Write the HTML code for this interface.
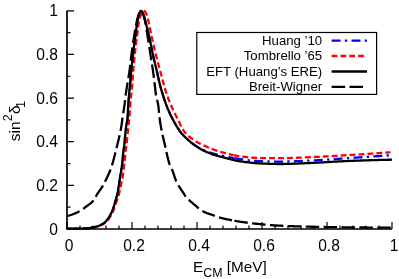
<!DOCTYPE html>
<html><head><meta charset="utf-8"><title>sin2 delta1</title>
<style>
html,body{margin:0;padding:0;background:#fff;}
svg{display:block;}
text{font-family:"Liberation Sans",sans-serif;fill:#000;}
</style></head><body>
<svg width="399" height="279" viewBox="0 0 399 279">
<rect width="399" height="279" fill="#fff"/>
<g fill="none" stroke-linejoin="round">
<path d="M67.00,228.70 L68.01,228.70 L69.01,228.70 L70.02,228.69 L71.02,228.69 L72.03,228.68 L73.03,228.68 L74.04,228.67 L75.04,228.66 L76.05,228.65 L77.05,228.64 L78.05,228.63 L79.06,228.61 L80.06,228.60 L81.07,228.58 L82.07,228.55 L83.08,228.51 L84.08,228.46 L85.09,228.40 L86.09,228.34 L87.09,228.27 L88.09,228.19 L89.09,228.09 L90.08,227.94 L91.08,227.77 L92.07,227.58 L93.05,227.39 L94.04,227.19 L95.02,226.97 L96.00,226.73 L96.97,226.46 L97.92,226.16 L98.86,225.80 L99.78,225.39 L100.69,224.95 L101.59,224.51 L102.49,224.03 L103.35,223.51 L104.15,222.93 L104.90,222.27 L105.62,221.56 L106.31,220.81 L106.97,220.06 L107.60,219.28 L108.21,218.47 L108.77,217.64 L109.30,216.79 L109.80,215.92 L110.28,215.03 L110.73,214.13 L111.18,213.23 L111.61,212.32 L112.03,211.40 L112.41,210.48 L112.77,209.54 L113.11,208.60 L113.43,207.65 L113.74,206.69 L114.04,205.73 L114.33,204.76 L114.61,203.80 L114.90,202.83 L115.19,201.87 L115.48,200.91 L115.77,199.94 L116.06,198.98 L116.33,198.01 L116.60,197.04 L116.85,196.07 L117.08,195.09 L117.29,194.12 L117.49,193.13 L117.69,192.15 L117.88,191.16 L118.06,190.17 L118.23,189.18 L118.40,188.19 L118.57,187.20 L118.73,186.20 L118.89,185.21 L119.04,184.22 L119.20,183.22 L119.36,182.23 L119.51,181.24 L119.65,180.24 L119.78,179.25 L119.92,178.25 L120.06,177.26 L120.20,176.26 L120.36,175.27 L120.53,174.28 L120.72,173.29 L120.92,172.31 L121.10,171.32 L121.25,170.33 L121.41,169.33 L121.56,168.34 L121.70,167.34 L121.84,166.35 L121.98,165.35 L122.11,164.36 L122.23,163.36 L122.35,162.36 L122.46,161.36 L122.56,160.36 L122.66,159.36 L122.74,158.36 L122.81,157.36 L122.89,156.35 L122.97,155.35 L123.06,154.35 L123.17,153.36 L123.29,152.36 L123.42,151.36 L123.55,150.36 L123.69,149.37 L123.83,148.37 L123.97,147.38 L124.11,146.38 L124.25,145.38 L124.37,144.39 L124.49,143.39 L124.60,142.39 L124.69,141.39 L124.77,140.39 L124.84,139.39 L124.90,138.38 L124.97,137.38 L125.05,136.38 L125.14,135.38 L125.24,134.38 L125.35,133.38 L125.46,132.38 L125.57,131.38 L125.69,130.38 L125.81,129.39 L125.94,128.39 L126.07,127.39 L126.21,126.40 L126.34,125.40 L126.49,124.41 L126.67,123.42 L126.86,122.43 L127.06,121.44 L127.24,120.45 L127.39,119.46 L127.50,118.46 L127.58,117.47 L127.65,116.47 L127.71,115.46 L127.76,114.46 L127.81,113.46 L127.85,112.45 L127.90,111.44 L127.94,110.44 L127.99,109.43 L128.04,108.43 L128.10,107.43 L128.17,106.42 L128.24,105.42 L128.31,104.42 L128.38,103.42 L128.45,102.41 L128.53,101.41 L128.61,100.41 L128.69,99.41 L128.77,98.41 L128.85,97.40 L128.94,96.40 L129.02,95.40 L129.11,94.40 L129.20,93.40 L129.28,92.40 L129.37,91.40 L129.46,90.40 L129.56,89.40 L129.65,88.40 L129.76,87.40 L129.86,86.40 L129.96,85.40 L130.06,84.40 L130.15,83.40 L130.25,82.40 L130.34,81.39 L130.43,80.39 L130.52,79.39 L130.61,78.39 L130.70,77.39 L130.79,76.39 L130.88,75.39 L130.98,74.39 L131.07,73.39 L131.16,72.39 L131.26,71.39 L131.36,70.39 L131.46,69.39 L131.56,68.39 L131.66,67.39 L131.77,66.39 L131.87,65.39 L131.97,64.39 L132.08,63.39 L132.18,62.39 L132.29,61.39 L132.40,60.39 L132.51,59.39 L132.62,58.39 L132.73,57.40 L132.84,56.40 L132.95,55.40 L133.07,54.40 L133.18,53.40 L133.30,52.40 L133.42,51.41 L133.54,50.41 L133.66,49.41 L133.78,48.41 L133.90,47.42 L134.02,46.42 L134.15,45.42 L134.27,44.42 L134.40,43.43 L134.53,42.43 L134.65,41.43 L134.78,40.44 L134.91,39.44 L135.04,38.44 L135.17,37.45 L135.31,36.45 L135.44,35.46 L135.57,34.46 L135.70,33.46 L135.83,32.46 L135.95,31.46 L136.07,30.46 L136.19,29.46 L136.32,28.46 L136.45,27.46 L136.58,26.46 L136.71,25.46 L136.85,24.46 L137.00,23.47 L137.16,22.48 L137.32,21.49 L137.50,20.51 L137.69,19.53 L137.89,18.55 L138.11,17.56 L138.36,16.56 L138.63,15.56 L138.94,14.58 L139.28,13.64 L139.67,12.75 L140.15,11.86 L140.85,10.96 L141.54,10.96 L142.24,11.85 L142.73,12.74 L143.12,13.63 L143.45,14.57 L143.75,15.54 L144.03,16.53 L144.29,17.53 L144.56,18.52 L144.84,19.48 L145.12,20.45 L145.39,21.41 L145.66,22.38 L145.92,23.35 L146.18,24.32 L146.43,25.30 L146.69,26.27 L146.93,27.24 L147.18,28.22 L147.42,29.20 L147.66,30.17 L147.89,31.15 L148.13,32.13 L148.36,33.11 L148.59,34.09 L148.81,35.06 L149.04,36.04 L149.26,37.02 L149.47,38.00 L149.68,38.99 L149.89,39.97 L150.10,40.95 L150.30,41.94 L150.50,42.92 L150.70,43.91 L150.90,44.89 L151.10,45.88 L151.30,46.86 L151.49,47.85 L151.69,48.83 L151.90,49.82 L152.10,50.80 L152.30,51.79 L152.51,52.77 L152.72,53.75 L152.94,54.73 L153.16,55.71 L153.38,56.69 L153.61,57.67 L153.84,58.65 L154.07,59.63 L154.30,60.61 L154.54,61.58 L154.77,62.56 L155.01,63.54 L155.25,64.51 L155.48,65.49 L155.72,66.47 L155.96,67.44 L156.19,68.42 L156.42,69.40 L156.65,70.38 L156.88,71.36 L157.11,72.34 L157.33,73.32 L157.55,74.30 L157.76,75.28 L157.98,76.26 L158.19,77.24 L158.41,78.23 L158.62,79.21 L158.85,80.19 L159.07,81.17 L159.30,82.15 L159.53,83.12 L159.77,84.10 L160.02,85.07 L160.27,86.04 L160.53,87.01 L160.80,87.98 L161.08,88.95 L161.36,89.91 L161.64,90.88 L161.93,91.84 L162.22,92.80 L162.52,93.76 L162.81,94.72 L163.11,95.68 L163.42,96.64 L163.72,97.60 L164.03,98.56 L164.35,99.51 L164.67,100.47 L164.99,101.42 L165.33,102.37 L165.67,103.31 L166.02,104.25 L166.37,105.19 L166.74,106.12 L167.11,107.05 L167.49,107.99 L167.88,108.91 L168.27,109.84 L168.67,110.77 L169.08,111.69 L169.49,112.61 L169.91,113.52 L170.34,114.44 L170.77,115.34 L171.21,116.25 L171.66,117.15 L172.11,118.04 L172.56,118.93 L173.03,119.82 L173.50,120.71 L173.97,121.61 L174.45,122.50 L174.94,123.40 L175.43,124.29 L175.94,125.17 L176.45,126.05 L176.98,126.92 L177.51,127.77 L178.06,128.62 L178.62,129.45 L179.19,130.26 L179.77,131.06 L180.37,131.84 L180.98,132.60 L181.62,133.35 L182.27,134.10 L182.94,134.84 L183.63,135.58 L184.33,136.31 L185.05,137.03 L185.78,137.74 L186.52,138.44 L187.27,139.13 L188.04,139.81 L188.81,140.48 L189.59,141.14 L190.38,141.78 L191.18,142.41 L191.98,143.03 L192.79,143.64 L193.60,144.22 L194.41,144.79 L195.22,145.35 L196.05,145.89 L196.89,146.43 L197.75,146.95 L198.63,147.46 L199.51,147.96 L200.41,148.44 L201.31,148.91 L202.22,149.35 L203.13,149.79 L204.05,150.20 L204.97,150.59 L205.89,150.96 L206.82,151.32 L207.77,151.66 L208.72,151.99 L209.67,152.32 L210.63,152.63 L211.60,152.92 L212.56,153.21 L213.53,153.49 L214.50,153.76 L215.47,154.03 L216.44,154.28 L217.41,154.52 L218.39,154.75 L219.37,154.98 L220.35,155.20 L221.33,155.42 L222.32,155.63 L223.30,155.84 L224.29,156.05 L225.27,156.26 L226.25,156.47 L227.23,156.68 L228.22,156.89 L229.20,157.10 L230.19,157.31 L231.17,157.51 L232.16,157.72 L233.14,157.92 L234.13,158.11 L234.40,158.16" stroke="#0000ff" stroke-width="2.1" stroke-dasharray="9 4.3 2.3 4.3" stroke-dashoffset="-1.8"/>
<path d="M234.40,158.16 L235.12,158.30 L236.11,158.48 L237.10,158.65 L238.09,158.81 L239.08,158.97 L240.07,159.11 L241.06,159.25 L242.06,159.38 L243.05,159.52 L244.05,159.66 L245.05,159.79 L246.04,159.92 L247.04,160.05 L248.04,160.18 L249.04,160.30 L250.04,160.42 L251.04,160.53 L252.04,160.63 L253.04,160.73 L254.05,160.83 L255.05,160.91 L256.05,160.99 L257.05,161.06 L258.05,161.11 L259.06,161.16 L260.06,161.20 L261.06,161.24 L262.06,161.27 L263.07,161.30 L264.07,161.33 L265.07,161.36 L266.08,161.39 L267.08,161.41 L268.09,161.44 L269.09,161.46 L270.10,161.49 L271.10,161.51 L272.11,161.53 L273.12,161.54 L274.12,161.56 L275.13,161.57 L276.13,161.58 L277.14,161.59 L278.14,161.60 L279.15,161.60 L280.15,161.60 L281.16,161.60 L282.16,161.59 L283.17,161.58 L284.17,161.57 L285.17,161.55 L286.18,161.53 L287.18,161.51 L288.19,161.49 L289.19,161.46 L290.20,161.43 L291.20,161.40 L292.21,161.37 L293.21,161.33 L294.22,161.29 L295.22,161.25 L296.23,161.21 L297.23,161.17 L298.23,161.13 L299.24,161.09 L300.24,161.04 L301.25,161.00 L302.25,160.95 L303.26,160.90 L304.26,160.86 L305.26,160.81 L306.27,160.77 L307.27,160.72 L308.27,160.68 L309.28,160.63 L310.28,160.59 L311.29,160.54 L312.29,160.50 L313.29,160.45 L314.30,160.40 L315.30,160.34 L316.30,160.29 L317.31,160.23 L318.31,160.17 L319.31,160.11 L320.31,160.05 L321.32,159.99 L322.32,159.93 L323.32,159.86 L324.33,159.80 L325.33,159.73 L326.33,159.67 L327.33,159.60 L328.34,159.53 L329.34,159.46 L330.34,159.39 L331.34,159.32 L332.35,159.25 L333.35,159.17 L334.35,159.10 L335.35,159.03 L336.36,158.96 L337.36,158.89 L338.36,158.81 L339.36,158.74 L340.37,158.67 L341.37,158.60 L342.37,158.53 L343.37,158.45 L344.38,158.38 L345.38,158.31 L346.38,158.24 L347.39,158.18 L348.39,158.11 L349.39,158.04 L350.39,157.97 L351.40,157.91 L352.40,157.84 L353.40,157.78 L354.40,157.71 L355.41,157.64 L356.41,157.58 L357.41,157.51 L358.41,157.44 L359.42,157.38 L360.42,157.31 L361.42,157.25 L362.43,157.18 L363.43,157.11 L364.43,157.05 L365.43,156.98 L366.44,156.91 L367.44,156.85 L368.44,156.78 L369.44,156.71 L370.45,156.65 L371.45,156.58 L372.45,156.51 L373.46,156.44 L374.46,156.38 L375.46,156.31 L376.46,156.24 L377.47,156.18 L378.47,156.11 L379.47,156.04 L380.47,155.97 L381.48,155.91 L382.48,155.84 L383.48,155.77 L384.48,155.71 L385.49,155.64 L386.49,155.57 L387.49,155.50 L388.49,155.44 L389.50,155.37 L390.50,155.30" stroke="#0000ff" stroke-width="2.3" stroke-dasharray="9 4.3 2.3 4.3"/>
<path d="M67.00,228.70 L68.00,228.70 L69.00,228.70 L70.00,228.69 L71.00,228.69 L72.00,228.69 L72.99,228.68 L73.99,228.67 L74.99,228.67 L75.99,228.66 L76.99,228.65 L77.99,228.64 L78.99,228.63 L79.98,228.61 L80.98,228.60 L81.98,228.58 L82.98,228.55 L83.98,228.51 L84.98,228.47 L85.98,228.41 L86.97,228.35 L87.97,228.28 L88.96,228.20 L89.95,228.10 L90.94,227.97 L91.93,227.80 L92.92,227.61 L93.89,227.42 L94.87,227.22 L95.85,226.99 L96.82,226.74 L97.78,226.47 L98.72,226.15 L99.65,225.78 L100.56,225.36 L101.46,224.92 L102.35,224.47 L103.24,223.99 L104.09,223.48 L104.89,222.90 L105.65,222.26 L106.38,221.56 L107.08,220.84 L107.75,220.10 L108.40,219.34 L109.02,218.55 L109.60,217.74 L110.14,216.91 L110.63,216.04 L111.11,215.16 L111.56,214.26 L112.02,213.38 L112.47,212.48 L112.90,211.58 L113.32,210.67 L113.70,209.75 L114.06,208.82 L114.40,207.89 L114.73,206.94 L115.05,205.99 L115.36,205.04 L115.67,204.09 L115.98,203.14 L116.30,202.20 L116.63,201.25 L116.96,200.31 L117.30,199.37 L117.63,198.42 L117.95,197.47 L118.25,196.52 L118.54,195.57 L118.81,194.61 L119.06,193.65 L119.30,192.68 L119.54,191.71 L119.77,190.74 L119.99,189.76 L120.20,188.79 L120.41,187.81 L120.62,186.83 L120.82,185.85 L121.03,184.87 L121.23,183.89 L121.43,182.91 L121.64,181.94 L121.85,180.96 L122.07,179.98 L122.28,179.01 L122.48,178.03 L122.67,177.05 L122.84,176.06 L122.99,175.08 L123.11,174.09 L123.22,173.09 L123.31,172.10 L123.42,171.11 L123.54,170.11 L123.67,169.12 L123.80,168.13 L123.93,167.14 L124.06,166.15 L124.19,165.16 L124.32,164.17 L124.45,163.18 L124.57,162.19 L124.68,161.20 L124.78,160.20 L124.87,159.21 L124.95,158.21 L125.02,157.22 L125.10,156.22 L125.18,155.23 L125.28,154.23 L125.38,153.24 L125.50,152.25 L125.62,151.26 L125.75,150.27 L125.88,149.28 L126.01,148.29 L126.15,147.30 L126.29,146.31 L126.42,145.32 L126.55,144.33 L126.67,143.33 L126.79,142.34 L126.89,141.35 L126.99,140.36 L127.08,139.36 L127.17,138.37 L127.26,137.37 L127.36,136.38 L127.46,135.38 L127.57,134.39 L127.67,133.40 L127.78,132.40 L127.89,131.41 L128.00,130.42 L128.11,129.43 L128.22,128.43 L128.33,127.44 L128.44,126.45 L128.55,125.46 L128.66,124.46 L128.77,123.47 L128.88,122.48 L128.99,121.48 L129.10,120.49 L129.21,119.50 L129.30,118.50 L129.39,117.51 L129.47,116.51 L129.54,115.52 L129.62,114.52 L129.69,113.53 L129.76,112.53 L129.83,111.53 L129.89,110.54 L129.96,109.54 L130.03,108.54 L130.10,107.55 L130.18,106.55 L130.25,105.56 L130.34,104.56 L130.42,103.57 L130.50,102.57 L130.59,101.57 L130.68,100.58 L130.76,99.58 L130.85,98.59 L130.94,97.60 L131.04,96.60 L131.13,95.61 L131.23,94.61 L131.33,93.62 L131.43,92.62 L131.53,91.63 L131.63,90.64 L131.74,89.65 L131.86,88.65 L131.99,87.66 L132.12,86.67 L132.23,85.68 L132.33,84.69 L132.41,83.69 L132.48,82.70 L132.55,81.70 L132.61,80.70 L132.67,79.71 L132.73,78.71 L132.79,77.71 L132.84,76.71 L132.90,75.72 L132.95,74.72 L133.01,73.72 L133.08,72.72 L133.15,71.73 L133.22,70.73 L133.30,69.74 L133.38,68.74 L133.46,67.75 L133.55,66.75 L133.63,65.76 L133.72,64.76 L133.82,63.77 L133.91,62.77 L134.01,61.78 L134.10,60.78 L134.20,59.79 L134.30,58.80 L134.41,57.80 L134.51,56.81 L134.61,55.82 L134.72,54.82 L134.83,53.83 L134.94,52.84 L135.05,51.85 L135.16,50.85 L135.28,49.86 L135.40,48.87 L135.52,47.88 L135.64,46.89 L135.77,45.90 L135.89,44.90 L136.02,43.91 L136.15,42.92 L136.28,41.93 L136.41,40.94 L136.54,39.95 L136.67,38.96 L136.80,37.97 L136.93,36.98 L137.07,35.99 L137.20,35.00 L137.33,34.01 L137.45,33.01 L137.57,32.02 L137.69,31.01 L137.80,30.01 L137.92,29.01 L138.04,28.01 L138.16,27.01 L138.29,26.01 L138.42,25.02 L138.56,24.03 L138.71,23.05 L138.88,22.07 L139.06,21.10 L139.25,20.13 L139.46,19.18 L139.70,18.22 L139.99,17.25 L140.32,16.28 L140.71,15.32 L141.14,14.40 L141.60,13.51 L142.11,12.68 L142.70,11.85 L143.46,11.03 L144.22,10.85 L144.99,11.52 L145.62,12.43 L146.06,13.26 L146.45,14.15 L146.79,15.10 L147.10,16.08 L147.38,17.07 L147.65,18.06 L147.91,19.03 L148.16,19.99 L148.41,20.96 L148.64,21.93 L148.86,22.90 L149.07,23.87 L149.27,24.85 L149.47,25.83 L149.66,26.81 L149.85,27.80 L150.04,28.78 L150.23,29.76 L150.42,30.75 L150.62,31.73 L150.81,32.71 L151.02,33.69 L151.23,34.67 L151.44,35.64 L151.66,36.61 L151.88,37.59 L152.10,38.56 L152.32,39.54 L152.54,40.51 L152.77,41.48 L152.99,42.46 L153.22,43.43 L153.45,44.40 L153.67,45.38 L153.90,46.35 L154.13,47.32 L154.37,48.29 L154.60,49.26 L154.83,50.23 L155.07,51.20 L155.30,52.18 L155.54,53.14 L155.78,54.11 L156.02,55.08 L156.26,56.05 L156.51,57.02 L156.76,57.99 L157.01,58.95 L157.26,59.92 L157.51,60.89 L157.77,61.85 L158.02,62.82 L158.28,63.78 L158.54,64.75 L158.79,65.71 L159.05,66.68 L159.31,67.64 L159.57,68.61 L159.82,69.57 L160.08,70.54 L160.33,71.51 L160.59,72.47 L160.84,73.44 L161.08,74.41 L161.33,75.37 L161.58,76.34 L161.83,77.31 L162.08,78.28 L162.33,79.24 L162.59,80.21 L162.84,81.17 L163.10,82.14 L163.37,83.10 L163.63,84.06 L163.91,85.02 L164.18,85.98 L164.46,86.94 L164.74,87.90 L165.03,88.86 L165.32,89.82 L165.62,90.77 L165.92,91.72 L166.22,92.68 L166.53,93.62 L166.85,94.57 L167.18,95.51 L167.51,96.45 L167.85,97.39 L168.20,98.33 L168.56,99.26 L168.92,100.19 L169.29,101.12 L169.67,102.05 L170.05,102.97 L170.43,103.89 L170.82,104.81 L171.21,105.73 L171.61,106.64 L172.02,107.55 L172.43,108.46 L172.85,109.37 L173.27,110.28 L173.70,111.18 L174.13,112.08 L174.57,112.98 L175.01,113.88 L175.46,114.77 L175.90,115.67 L176.35,116.56 L176.81,117.45 L177.26,118.34 L177.72,119.23 L178.17,120.12 L178.62,121.03 L179.06,121.94 L179.51,122.86 L179.95,123.78 L180.40,124.70 L180.86,125.61 L181.32,126.52 L181.80,127.41 L182.28,128.29 L182.78,129.16 L183.30,130.00 L183.83,130.82 L184.39,131.62 L184.96,132.38 L185.56,133.12 L186.21,133.83 L186.89,134.54 L187.60,135.22 L188.35,135.90 L189.12,136.56 L189.91,137.20 L190.72,137.83 L191.54,138.44 L192.37,139.03 L193.21,139.61 L194.04,140.17 L194.87,140.72 L195.70,141.24 L196.55,141.75 L197.41,142.25 L198.29,142.73 L199.17,143.20 L200.07,143.66 L200.97,144.10 L201.88,144.54 L202.78,144.97 L203.69,145.40 L204.60,145.82 L205.51,146.23 L206.42,146.64 L207.33,147.05 L208.25,147.45 L209.17,147.84 L210.09,148.23 L211.02,148.60 L211.95,148.97 L212.88,149.33 L213.82,149.68 L214.75,150.01 L215.69,150.34 L216.64,150.66 L217.59,150.97 L218.54,151.27 L219.50,151.57 L220.46,151.85 L221.42,152.13 L222.38,152.41 L223.34,152.67 L224.31,152.92 L225.27,153.17 L226.24,153.41 L227.21,153.66 L228.18,153.90 L229.15,154.15 L230.13,154.38 L231.10,154.62 L232.08,154.85 L233.06,155.07 L233.50,155.16" stroke="#ff0000" stroke-width="2.3" stroke-dasharray="5.9 3.05" stroke-dashoffset="2.1"/>
<path d="M233.50,155.16 L234.03,155.28 L235.01,155.48 L235.99,155.67 L236.98,155.85 L237.96,156.01 L238.94,156.16 L239.93,156.29 L240.91,156.41 L241.90,156.53 L242.89,156.65 L243.88,156.77 L244.88,156.88 L245.87,157.00 L246.86,157.10 L247.86,157.21 L248.85,157.31 L249.85,157.40 L250.85,157.49 L251.85,157.58 L252.84,157.65 L253.84,157.73 L254.84,157.79 L255.84,157.85 L256.84,157.90 L257.84,157.94 L258.83,157.97 L259.83,158.00 L260.83,158.01 L261.83,158.03 L262.82,158.05 L263.82,158.06 L264.82,158.08 L265.82,158.09 L266.82,158.11 L267.82,158.12 L268.81,158.13 L269.81,158.14 L270.81,158.15 L271.81,158.16 L272.81,158.17 L273.81,158.18 L274.81,158.18 L275.81,158.19 L276.81,158.19 L277.81,158.20 L278.81,158.20 L279.81,158.20 L280.80,158.20 L281.80,158.19 L282.80,158.19 L283.80,158.17 L284.80,158.16 L285.80,158.14 L286.79,158.12 L287.79,158.09 L288.79,158.07 L289.79,158.04 L290.79,158.01 L291.79,157.97 L292.78,157.94 L293.78,157.90 L294.78,157.86 L295.78,157.82 L296.78,157.78 L297.78,157.74 L298.77,157.70 L299.77,157.65 L300.77,157.61 L301.77,157.56 L302.77,157.52 L303.76,157.47 L304.76,157.43 L305.76,157.38 L306.76,157.34 L307.76,157.29 L308.75,157.25 L309.75,157.21 L310.75,157.17 L311.75,157.13 L312.74,157.08 L313.74,157.04 L314.74,156.99 L315.74,156.95 L316.73,156.90 L317.73,156.85 L318.73,156.80 L319.73,156.75 L320.72,156.70 L321.72,156.65 L322.72,156.60 L323.72,156.54 L324.71,156.49 L325.71,156.44 L326.71,156.38 L327.71,156.33 L328.70,156.27 L329.70,156.21 L330.70,156.16 L331.70,156.10 L332.69,156.04 L333.69,155.98 L334.69,155.92 L335.68,155.86 L336.68,155.81 L337.68,155.75 L338.67,155.69 L339.67,155.63 L340.67,155.57 L341.67,155.51 L342.66,155.44 L343.66,155.38 L344.66,155.32 L345.65,155.26 L346.65,155.20 L347.65,155.14 L348.64,155.08 L349.64,155.02 L350.64,154.96 L351.64,154.90 L352.63,154.84 L353.63,154.78 L354.63,154.72 L355.62,154.66 L356.62,154.59 L357.62,154.53 L358.61,154.47 L359.61,154.41 L360.61,154.34 L361.60,154.28 L362.60,154.21 L363.60,154.15 L364.59,154.09 L365.59,154.02 L366.59,153.95 L367.58,153.89 L368.58,153.82 L369.58,153.76 L370.57,153.69 L371.57,153.62 L372.57,153.56 L373.56,153.49 L374.56,153.42 L375.56,153.35 L376.55,153.29 L377.55,153.22 L378.54,153.15 L379.54,153.08 L380.54,153.01 L381.53,152.94 L382.53,152.87 L383.53,152.80 L384.52,152.73 L385.52,152.66 L386.52,152.59 L387.51,152.52 L388.51,152.44 L389.50,152.37 L390.50,152.30" stroke="#ff0000" stroke-width="2.3" stroke-dasharray="5.9 3.05"/>
<path d="M67.00,228.70 L68.01,228.70 L69.02,228.70 L70.03,228.69 L71.04,228.69 L72.05,228.68 L73.05,228.68 L74.06,228.67 L75.07,228.66 L76.08,228.65 L77.09,228.64 L78.10,228.63 L79.10,228.61 L80.11,228.60 L81.12,228.58 L82.13,228.55 L83.14,228.51 L84.15,228.46 L85.16,228.40 L86.16,228.34 L87.17,228.26 L88.17,228.19 L89.17,228.08 L90.17,227.93 L91.16,227.75 L92.16,227.56 L93.15,227.37 L94.14,227.17 L95.13,226.95 L96.11,226.70 L97.08,226.43 L98.03,226.12 L98.97,225.75 L99.89,225.34 L100.80,224.90 L101.71,224.45 L102.60,223.96 L103.46,223.44 L104.26,222.84 L105.01,222.17 L105.73,221.45 L106.41,220.70 L107.07,219.94 L107.70,219.15 L108.30,218.33 L108.86,217.50 L109.39,216.64 L109.89,215.76 L110.36,214.87 L110.82,213.97 L111.26,213.06 L111.69,212.15 L112.10,211.22 L112.49,210.29 L112.84,209.35 L113.18,208.40 L113.50,207.45 L113.80,206.49 L114.10,205.52 L114.39,204.55 L114.68,203.58 L114.97,202.62 L115.26,201.65 L115.55,200.68 L115.84,199.72 L116.12,198.75 L116.40,197.78 L116.66,196.80 L116.91,195.82 L117.13,194.84 L117.35,193.86 L117.55,192.88 L117.74,191.89 L117.93,190.90 L118.11,189.90 L118.28,188.91 L118.45,187.91 L118.61,186.91 L118.77,185.92 L118.93,184.92 L119.09,183.92 L119.25,182.93 L119.40,181.93 L119.55,180.93 L119.69,179.93 L119.82,178.93 L119.96,177.93 L120.10,176.93 L120.25,175.94 L120.41,174.94 L120.59,173.95 L120.79,172.96 L120.98,171.97 L121.15,170.98 L121.31,169.98 L121.46,168.98 L121.61,167.99 L121.76,166.99 L121.89,165.99 L122.03,164.99 L122.16,163.99 L122.28,162.98 L122.39,161.98 L122.50,160.98 L122.60,159.98 L122.69,158.97 L122.77,157.97 L122.84,156.96 L122.92,155.95 L123.00,154.95 L123.11,153.95 L123.22,152.94 L123.34,151.94 L123.48,150.94 L123.61,149.94 L123.75,148.94 L123.89,147.94 L124.03,146.94 L124.17,145.94 L124.30,144.94 L124.43,143.94 L124.54,142.94 L124.64,141.94 L124.73,140.94 L124.80,139.93 L124.86,138.92 L124.93,137.92 L125.01,136.91 L125.10,135.91 L125.19,134.90 L125.29,133.90 L125.40,132.89 L125.51,131.89 L125.63,130.89 L125.75,129.89 L125.88,128.89 L126.01,127.89 L126.14,126.89 L126.28,125.89 L126.42,124.89 L126.58,123.89 L126.77,122.90 L126.96,121.91 L127.15,120.91 L127.32,119.92 L127.46,118.92 L127.55,117.92 L127.62,116.92 L127.68,115.92 L127.74,114.91 L127.79,113.90 L127.84,112.89 L127.88,111.88 L127.92,110.87 L127.97,109.86 L128.02,108.86 L128.08,107.85 L128.14,106.84 L128.21,105.84 L128.28,104.83 L128.35,103.82 L128.42,102.82 L128.50,101.81 L128.58,100.81 L128.66,99.80 L128.74,98.80 L128.82,97.79 L128.90,96.78 L128.99,95.78 L129.08,94.77 L129.16,93.77 L129.25,92.76 L129.34,91.76 L129.43,90.76 L129.52,89.75 L129.62,88.75 L129.72,87.74 L129.82,86.74 L129.93,85.74 L130.03,84.73 L130.12,83.73 L130.22,82.73 L130.31,81.72 L130.40,80.72 L130.49,79.71 L130.58,78.71 L130.67,77.70 L130.76,76.70 L130.86,75.69 L130.95,74.69 L131.04,73.68 L131.14,72.68 L131.23,71.68 L131.33,70.67 L131.43,69.67 L131.53,68.67 L131.63,67.66 L131.74,66.66 L131.84,65.66 L131.95,64.65 L132.05,63.65 L132.16,62.65 L132.26,61.64 L132.37,60.64 L132.48,59.64 L132.59,58.64 L132.70,57.63 L132.81,56.63 L132.93,55.63 L133.04,54.63 L133.16,53.62 L133.28,52.62 L133.39,51.62 L133.51,50.62 L133.63,49.62 L133.75,48.62 L133.88,47.62 L134.00,46.61 L134.12,45.61 L134.25,44.61 L134.38,43.61 L134.50,42.61 L134.63,41.61 L134.76,40.61 L134.89,39.61 L135.02,38.61 L135.15,37.61 L135.29,36.61 L135.42,35.61 L135.55,34.61 L135.68,33.61 L135.81,32.61 L135.93,31.60 L136.06,30.60 L136.18,29.59 L136.30,28.59 L136.43,27.58 L136.56,26.58 L136.69,25.58 L136.84,24.58 L136.98,23.58 L137.14,22.58 L137.31,21.59 L137.48,20.61 L137.67,19.62 L137.88,18.64 L138.09,17.65 L138.34,16.64 L138.61,15.64 L138.91,14.66 L139.25,13.71 L139.64,12.81 L140.11,11.93 L140.80,11.00 L141.50,10.92 L142.21,11.79 L142.71,12.69 L143.10,13.59 L143.44,14.53 L143.74,15.50 L144.02,16.50 L144.29,17.50 L144.55,18.49 L144.83,19.46 L145.11,20.43 L145.39,21.40 L145.65,22.37 L145.92,23.34 L146.18,24.32 L146.43,25.29 L146.69,26.27 L146.93,27.25 L147.18,28.23 L147.42,29.21 L147.66,30.19 L147.90,31.17 L148.13,32.15 L148.36,33.13 L148.59,34.12 L148.82,35.10 L149.05,36.08 L149.27,37.06 L149.48,38.05 L149.69,39.03 L149.90,40.02 L150.11,41.01 L150.31,42.00 L150.51,42.98 L150.71,43.97 L150.91,44.96 L151.11,45.95 L151.31,46.94 L151.51,47.93 L151.71,48.92 L151.91,49.91 L152.12,50.90 L152.32,51.88 L152.53,52.87 L152.75,53.85 L152.96,54.84 L153.19,55.82 L153.41,56.81 L153.64,57.79 L153.87,58.77 L154.10,59.75 L154.33,60.73 L154.57,61.71 L154.81,62.69 L155.04,63.68 L155.28,64.66 L155.52,65.64 L155.76,66.62 L155.99,67.60 L156.23,68.58 L156.46,69.56 L156.69,70.54 L156.92,71.52 L157.15,72.51 L157.37,73.49 L157.58,74.48 L157.80,75.46 L158.02,76.45 L158.23,77.43 L158.45,78.42 L158.67,79.40 L158.89,80.39 L159.12,81.37 L159.35,82.35 L159.58,83.33 L159.82,84.31 L160.07,85.29 L160.33,86.26 L160.60,87.23 L160.87,88.21 L161.14,89.18 L161.42,90.15 L161.71,91.11 L162.00,92.08 L162.29,93.05 L162.59,94.01 L162.89,94.97 L163.19,95.93 L163.50,96.90 L163.81,97.86 L164.12,98.82 L164.44,99.78 L164.76,100.73 L165.09,101.69 L165.42,102.64 L165.77,103.59 L166.12,104.53 L166.48,105.47 L166.85,106.41 L167.23,107.34 L167.61,108.28 L168.00,109.21 L168.40,110.14 L168.80,111.06 L169.21,111.99 L169.63,112.91 L170.05,113.83 L170.48,114.74 L170.92,115.65 L171.36,116.56 L171.81,117.46 L172.27,118.36 L172.73,119.25 L173.20,120.14 L173.67,121.03 L174.15,121.92 L174.64,122.81 L175.14,123.69 L175.64,124.57 L176.16,125.45 L176.68,126.32 L177.21,127.18 L177.75,128.04 L178.30,128.88 L178.86,129.72 L179.44,130.54 L180.02,131.36 L180.62,132.16 L181.24,132.94 L181.89,133.71 L182.56,134.47 L183.25,135.22 L183.95,135.95 L184.66,136.67 L185.38,137.37 L186.10,138.07 L186.83,138.77 L187.57,139.46 L188.32,140.14 L189.08,140.82 L189.85,141.48 L190.62,142.14 L191.40,142.78 L192.19,143.42 L192.99,144.03 L193.79,144.64 L194.60,145.22 L195.42,145.79 L196.25,146.35 L197.10,146.91 L197.95,147.45 L198.81,147.98 L199.68,148.50 L200.56,149.01 L201.45,149.51 L202.34,149.99 L203.24,150.45 L204.14,150.90 L205.05,151.32 L205.96,151.73 L206.88,152.13 L207.81,152.52 L208.75,152.90 L209.70,153.26 L210.64,153.62 L211.60,153.96 L212.55,154.29 L213.51,154.62 L214.47,154.93 L215.43,155.23 L216.39,155.53 L217.36,155.81 L218.33,156.08 L219.30,156.35 L220.28,156.60 L221.26,156.86 L222.24,157.11 L223.22,157.35 L224.20,157.60 L225.17,157.84 L226.15,158.09 L227.13,158.35 L228.11,158.60 L229.09,158.86 L230.06,159.12 L231.04,159.38 L232.02,159.63 L233.00,159.87 L233.99,160.11 L234.97,160.34 L235.95,160.56 L236.94,160.76 L237.93,160.95 L238.92,161.13 L239.91,161.29 L240.90,161.43 L241.89,161.57 L242.89,161.72 L243.89,161.85 L244.89,161.99 L245.89,162.12 L246.89,162.24 L247.89,162.36 L248.90,162.48 L249.90,162.59 L250.91,162.70 L251.92,162.80 L252.92,162.90 L253.93,162.99 L254.94,163.07 L255.94,163.15 L256.95,163.22 L257.96,163.29 L258.96,163.35 L259.97,163.40 L260.97,163.45 L261.98,163.49 L262.99,163.54 L263.99,163.58 L265.00,163.63 L266.01,163.67 L267.02,163.71 L268.03,163.75 L269.04,163.78 L270.04,163.82 L271.05,163.85 L272.06,163.88 L273.07,163.91 L274.08,163.93 L275.09,163.95 L276.10,163.97 L277.11,163.98 L278.12,163.99 L279.12,164.00 L280.13,164.00 L281.14,164.00 L282.15,163.99 L283.16,163.98 L284.16,163.97 L285.17,163.95 L286.18,163.93 L287.19,163.91 L288.20,163.88 L289.21,163.85 L290.21,163.82 L291.22,163.79 L292.23,163.76 L293.24,163.72 L294.25,163.68 L295.25,163.64 L296.26,163.60 L297.27,163.56 L298.28,163.51 L299.29,163.47 L300.29,163.43 L301.30,163.38 L302.31,163.34 L303.32,163.29 L304.33,163.24 L305.33,163.20 L306.34,163.15 L307.35,163.11 L308.36,163.07 L309.37,163.03 L310.37,162.98 L311.38,162.94 L312.39,162.90 L313.40,162.85 L314.40,162.80 L315.41,162.76 L316.42,162.70 L317.43,162.65 L318.43,162.60 L319.44,162.55 L320.45,162.49 L321.45,162.43 L322.46,162.38 L323.47,162.32 L324.48,162.26 L325.48,162.20 L326.49,162.14 L327.50,162.08 L328.50,162.02 L329.51,161.96 L330.52,161.90 L331.52,161.84 L332.53,161.78 L333.54,161.72 L334.55,161.67 L335.55,161.61 L336.56,161.55 L337.57,161.49 L338.57,161.44 L339.58,161.38 L340.59,161.33 L341.60,161.28 L342.60,161.23 L343.61,161.18 L344.62,161.13 L345.63,161.08 L346.63,161.04 L347.64,160.99 L348.65,160.95 L349.66,160.91 L350.66,160.88 L351.67,160.84 L352.68,160.80 L353.69,160.76 L354.69,160.73 L355.70,160.69 L356.71,160.66 L357.72,160.62 L358.73,160.59 L359.73,160.55 L360.74,160.52 L361.75,160.48 L362.76,160.45 L363.77,160.42 L364.77,160.38 L365.78,160.35 L366.79,160.32 L367.80,160.29 L368.81,160.26 L369.81,160.23 L370.82,160.20 L371.83,160.17 L372.84,160.14 L373.85,160.11 L374.86,160.08 L375.86,160.05 L376.87,160.03 L377.88,160.00 L378.89,159.97 L379.90,159.95 L380.91,159.93 L381.91,159.90 L382.92,159.88 L383.93,159.86 L384.94,159.83 L385.95,159.81 L386.96,159.79 L387.97,159.77 L388.97,159.75 L389.98,159.73 L390.99,159.72 L392.00,159.70" stroke="#000" stroke-width="2.3"/>
<path d="M67.00,216.00 L68.07,215.76 L69.12,215.49 L70.16,215.19 L71.18,214.87 L72.20,214.52 L73.19,214.15 L74.18,213.75 L75.16,213.34 L76.12,212.91 L77.08,212.47 L78.02,212.01 L78.95,211.54 L79.88,211.07 L80.79,210.56 L81.67,209.99 L82.55,209.37 L83.40,208.73 L84.25,208.08 L85.09,207.43 L85.94,206.79 L86.81,206.15 L87.69,205.51 L88.57,204.86 L89.44,204.20 L90.29,203.53 L91.13,202.85 L91.92,202.14 L92.68,201.41 L93.39,200.66 L94.04,199.88 L94.63,199.06 L95.13,198.14 L95.59,197.17 L96.04,196.19 L96.53,195.24 L97.08,194.34 L97.65,193.44 L98.24,192.57 L98.85,191.69 L99.47,190.83 L100.09,189.96 L100.70,189.09 L101.30,188.21 L101.88,187.33 L102.43,186.42 L102.95,185.51 L103.47,184.59 L103.98,183.66 L104.48,182.72 L104.97,181.78 L105.45,180.83 L105.93,179.88 L106.40,178.93 L106.85,177.97 L107.31,177.01 L107.75,176.05 L108.19,175.08 L108.62,174.11 L109.06,173.14 L109.48,172.17 L109.89,171.19 L110.29,170.21 L110.68,169.22 L111.05,168.22 L111.39,167.23 L111.72,166.22 L112.04,165.21 L112.34,164.19 L112.63,163.17 L112.91,162.15 L113.19,161.12 L113.47,160.10 L113.75,159.08 L114.02,158.05 L114.29,157.02 L114.55,156.00 L114.81,154.97 L115.06,153.94 L115.31,152.91 L115.56,151.88 L115.81,150.85 L116.07,149.82 L116.32,148.79 L116.58,147.76 L116.84,146.73 L117.10,145.70 L117.36,144.68 L117.62,143.65 L117.88,142.62 L118.13,141.59 L118.38,140.56 L118.63,139.53 L118.87,138.49 L119.10,137.46 L119.33,136.42 L119.55,135.39 L119.78,134.35 L120.00,133.31 L120.22,132.28 L120.44,131.24 L120.65,130.20 L120.85,129.16 L121.04,128.11 L121.22,127.07 L121.40,126.02 L121.55,124.98 L121.70,123.93 L121.84,122.87 L121.97,121.82 L122.10,120.77 L122.23,119.72 L122.38,118.67 L122.53,117.62 L122.69,116.57 L122.85,115.52 L123.02,114.47 L123.19,113.43 L123.36,112.38 L123.53,111.33 L123.70,110.29 L123.87,109.24 L124.04,108.19 L124.19,107.14 L124.35,106.09 L124.49,105.04 L124.63,103.99 L124.76,102.94 L124.89,101.89 L125.01,100.83 L125.13,99.78 L125.25,98.73 L125.37,97.67 L125.49,96.62 L125.63,95.57 L125.77,94.52 L125.91,93.47 L126.06,92.42 L126.21,91.37 L126.37,90.32 L126.53,89.27 L126.70,88.22 L126.86,87.17 L127.02,86.13 L127.19,85.08 L127.35,84.03 L127.53,82.99 L127.70,81.94 L127.88,80.89 L128.06,79.85 L128.24,78.80 L128.42,77.76 L128.60,76.71 L128.78,75.67 L128.95,74.62 L129.12,73.57 L129.28,72.53 L129.43,71.48 L129.58,70.43 L129.72,69.38 L129.85,68.33 L129.98,67.27 L130.11,66.22 L130.23,65.17 L130.35,64.11 L130.47,63.06 L130.59,62.01 L130.70,60.95 L130.83,59.90 L130.95,58.84 L131.08,57.79 L131.21,56.74 L131.34,55.69 L131.48,54.64 L131.61,53.58 L131.75,52.53 L131.89,51.48 L132.03,50.43 L132.17,49.38 L132.32,48.33 L132.46,47.28 L132.60,46.22 L132.75,45.17 L132.90,44.12 L133.05,43.07 L133.21,42.02 L133.36,40.98 L133.52,39.93 L133.68,38.88 L133.84,37.83 L134.01,36.79 L134.18,35.74 L134.35,34.69 L134.52,33.65 L134.70,32.60 L134.87,31.55 L135.05,30.50 L135.23,29.46 L135.42,28.41 L135.61,27.36 L135.80,26.32 L136.01,25.28 L136.21,24.24 L136.43,23.20 L136.65,22.16 L136.89,21.13 L137.13,20.10 L137.38,19.08 L137.64,18.04 L137.90,16.99 L138.19,15.93 L138.50,14.89 L138.86,13.89 L139.26,12.94 L139.75,12.05 L140.49,11.08 L141.26,10.88 L142.04,11.72 L142.59,12.65 L143.02,13.58 L143.40,14.56 L143.73,15.59 L144.02,16.65 L144.29,17.70 L144.54,18.75 L144.78,19.77 L145.01,20.80 L145.22,21.84 L145.43,22.87 L145.62,23.92 L145.80,24.96 L145.98,26.01 L146.15,27.06 L146.32,28.11 L146.49,29.16 L146.65,30.21 L146.81,31.26 L146.97,32.31 L147.14,33.36 L147.30,34.41 L147.47,35.46 L147.65,36.50 L147.81,37.55 L147.98,38.60 L148.15,39.64 L148.31,40.69 L148.47,41.74 L148.63,42.79 L148.79,43.84 L148.96,44.88 L149.11,45.93 L149.27,46.98 L149.43,48.03 L149.59,49.08 L149.75,50.13 L149.91,51.17 L150.07,52.22 L150.23,53.27 L150.39,54.32 L150.56,55.37 L150.72,56.41 L150.89,57.46 L151.06,58.51 L151.22,59.56 L151.39,60.60 L151.56,61.65 L151.73,62.70 L151.90,63.74 L152.07,64.79 L152.23,65.84 L152.39,66.89 L152.55,67.94 L152.71,68.98 L152.86,70.03 L153.01,71.08 L153.16,72.13 L153.30,73.18 L153.44,74.23 L153.58,75.28 L153.72,76.34 L153.85,77.39 L153.99,78.44 L154.12,79.49 L154.25,80.55 L154.38,81.60 L154.51,82.65 L154.64,83.70 L154.77,84.76 L154.90,85.81 L155.02,86.86 L155.13,87.92 L155.25,88.97 L155.36,90.03 L155.48,91.08 L155.61,92.14 L155.74,93.19 L155.89,94.24 L156.05,95.28 L156.24,96.32 L156.46,97.36 L156.71,98.39 L156.96,99.42 L157.23,100.45 L157.48,101.49 L157.73,102.52 L157.95,103.56 L158.14,104.60 L158.29,105.64 L158.43,106.69 L158.55,107.74 L158.67,108.79 L158.77,109.85 L158.88,110.91 L158.97,111.96 L159.07,113.02 L159.17,114.08 L159.27,115.14 L159.37,116.19 L159.49,117.25 L159.61,118.30 L159.75,119.35 L159.89,120.40 L160.04,121.45 L160.20,122.50 L160.37,123.55 L160.54,124.59 L160.72,125.64 L160.90,126.69 L161.09,127.73 L161.28,128.77 L161.48,129.82 L161.68,130.86 L161.88,131.90 L162.09,132.94 L162.31,133.97 L162.53,135.01 L162.77,136.04 L163.01,137.07 L163.26,138.11 L163.51,139.14 L163.76,140.17 L164.01,141.20 L164.25,142.23 L164.50,143.26 L164.74,144.30 L164.97,145.33 L165.20,146.37 L165.43,147.40 L165.65,148.44 L165.87,149.48 L166.09,150.52 L166.31,151.55 L166.54,152.59 L166.77,153.62 L167.02,154.65 L167.27,155.68 L167.52,156.72 L167.76,157.76 L168.02,158.79 L168.28,159.83 L168.55,160.86 L168.83,161.88 L169.13,162.90 L169.44,163.91 L169.78,164.90 L170.15,165.88 L170.61,166.83 L171.12,167.77 L171.63,168.71 L172.07,169.67 L172.46,170.65 L172.83,171.64 L173.19,172.64 L173.53,173.65 L173.86,174.66 L174.19,175.67 L174.53,176.67 L174.88,177.67 L175.24,178.67 L175.59,179.68 L175.95,180.68 L176.35,181.66 L176.80,182.61 L177.31,183.54 L177.86,184.45 L178.41,185.36 L178.97,186.26 L179.53,187.16 L180.11,188.05 L180.69,188.93 L181.28,189.82 L181.87,190.70 L182.46,191.58 L183.05,192.46 L183.63,193.35 L184.18,194.26 L184.74,195.18 L185.31,196.07 L185.93,196.92 L186.62,197.71 L187.36,198.47 L188.14,199.20 L188.92,199.92 L189.70,200.64 L190.49,201.35 L191.29,202.05 L192.09,202.74 L192.90,203.42 L193.72,204.10 L194.53,204.79 L195.35,205.49 L196.16,206.19 L196.97,206.90 L197.79,207.60 L198.62,208.29 L199.45,208.95 L200.30,209.59 L201.16,210.19 L202.04,210.75 L202.93,211.26 L203.85,211.73 L204.79,212.17 L205.75,212.58 L206.73,212.98 L207.73,213.35 L208.73,213.72 L209.74,214.07 L210.76,214.42 L211.78,214.76 L212.79,215.11 L213.80,215.46 L214.80,215.83 L215.80,216.21 L216.79,216.59 L217.78,216.96 L218.78,217.30 L219.80,217.58 L220.83,217.85 L221.86,218.10 L222.90,218.33 L223.93,218.56 L224.97,218.79 L226.00,219.03 L227.04,219.26 L228.07,219.50 L229.11,219.73 L230.15,219.95 L231.18,220.17 L232.22,220.39 L233.26,220.59 L234.30,220.78 L234.40,220.80" stroke="#000" stroke-width="2.3" stroke-dasharray="13.39 4.37" stroke-dashoffset="0"/>
<path d="M234.40,220.80 L235.35,220.96 L236.39,221.13 L237.44,221.30 L238.49,221.46 L239.53,221.62 L240.58,221.78 L241.63,221.93 L242.68,222.08 L243.73,222.23 L244.78,222.37 L245.84,222.51 L246.89,222.65 L247.94,222.78 L249.00,222.91 L250.05,223.04 L251.10,223.16 L252.16,223.28 L253.21,223.40 L254.26,223.52 L255.32,223.63 L256.37,223.75 L257.43,223.86 L258.48,223.97 L259.54,224.08 L260.59,224.19 L261.65,224.30 L262.70,224.41 L263.76,224.51 L264.81,224.61 L265.87,224.71 L266.93,224.80 L267.98,224.90 L269.04,224.98 L270.10,225.07 L271.16,225.15 L272.21,225.22 L273.27,225.29 L274.33,225.36 L275.39,225.42 L276.44,225.48 L277.50,225.54 L278.56,225.59 L279.62,225.65 L280.68,225.70 L281.74,225.76 L282.80,225.81 L283.85,225.86 L284.91,225.90 L285.97,225.95 L287.03,226.00 L288.09,226.04 L289.15,226.09 L290.21,226.13 L291.27,226.17 L292.33,226.21 L293.39,226.25 L294.45,226.29 L295.51,226.32 L296.57,226.36 L297.63,226.39 L298.69,226.43 L299.75,226.46 L300.81,226.49 L301.87,226.52 L302.93,226.55 L303.99,226.57 L305.05,226.60 L306.11,226.63 L307.17,226.65 L308.23,226.68 L309.29,226.70 L310.35,226.73 L311.41,226.75 L312.47,226.77 L313.53,226.80 L314.59,226.82 L315.65,226.84 L316.71,226.86 L317.78,226.88 L318.84,226.90 L319.90,226.92 L320.96,226.94 L322.02,226.96 L323.08,226.98 L324.14,227.00 L325.20,227.02 L326.26,227.04 L327.32,227.06 L328.38,227.07 L329.44,227.09 L330.50,227.11 L331.56,227.12 L332.62,227.14 L333.68,227.15 L334.74,227.17 L335.80,227.18 L336.86,227.20 L337.92,227.21 L338.98,227.23 L340.04,227.24 L341.10,227.25 L342.16,227.27 L343.22,227.28 L344.28,227.29 L345.34,227.30 L346.40,227.32 L347.46,227.33 L348.52,227.34 L349.58,227.35 L350.65,227.36 L351.71,227.38 L352.77,227.39 L353.83,227.40 L354.89,227.41 L355.95,227.42 L357.01,227.43 L358.07,227.44 L359.13,227.46 L360.19,227.47 L361.25,227.48 L362.31,227.49 L363.37,227.50 L364.43,227.51 L365.49,227.52 L366.55,227.53 L367.61,227.54 L368.67,227.55 L369.73,227.56 L370.79,227.57 L371.85,227.58 L372.91,227.58 L373.97,227.59 L375.03,227.60 L376.09,227.61 L377.15,227.62 L378.21,227.62 L379.27,227.63 L380.34,227.64 L381.40,227.65 L382.46,227.65 L383.52,227.66 L384.58,227.67 L385.64,227.67 L386.70,227.68 L387.76,227.68 L388.82,227.69 L389.88,227.69 L390.94,227.70 L392.00,227.70" stroke="#000" stroke-width="2.3" stroke-dasharray="13.5 4.4"/>
</g>
<g fill="none" stroke="#000" stroke-width="1.7">
<path d="M67.0,10.8 V229.0 H392.0" stroke-linejoin="miter"/>
<path d="M67.00,229.0 v-7 M132.00,229.0 v-7 M197.00,229.0 v-7 M262.00,229.0 v-7 M327.00,229.0 v-7 M392.00,229.0 v-7 M80.00,229.0 v-3.5 M93.00,229.0 v-3.5 M106.00,229.0 v-3.5 M119.00,229.0 v-3.5 M145.00,229.0 v-3.5 M158.00,229.0 v-3.5 M171.00,229.0 v-3.5 M184.00,229.0 v-3.5 M210.00,229.0 v-3.5 M223.00,229.0 v-3.5 M236.00,229.0 v-3.5 M249.00,229.0 v-3.5 M275.00,229.0 v-3.5 M288.00,229.0 v-3.5 M301.00,229.0 v-3.5 M314.00,229.0 v-3.5 M340.00,229.0 v-3.5 M353.00,229.0 v-3.5 M366.00,229.0 v-3.5 M379.00,229.0 v-3.5 M67.0,229.00 h7 M67.0,185.36 h7 M67.0,141.72 h7 M67.0,98.08 h7 M67.0,54.44 h7 M67.0,10.80 h7 M67.0,207.18 h3.5 M67.0,163.54 h3.5 M67.0,119.90 h3.5 M67.0,76.26 h3.5 M67.0,32.62 h3.5" stroke-width="1.2"/>
</g>
<g font-size="15.6" style="will-change:transform"><text x="69.0" y="251" text-anchor="middle">0</text><text x="134.0" y="251" text-anchor="middle">0.2</text><text x="199.0" y="251" text-anchor="middle">0.4</text><text x="264.0" y="251" text-anchor="middle">0.6</text><text x="329.0" y="251" text-anchor="middle">0.8</text><text x="394.0" y="251" text-anchor="middle">1</text><text x="57.9" y="234.5" text-anchor="end">0</text><text x="57.9" y="190.9" text-anchor="end">0.2</text><text x="57.9" y="147.2" text-anchor="end">0.4</text><text x="57.9" y="103.6" text-anchor="end">0.6</text><text x="57.9" y="59.9" text-anchor="end">0.8</text><text x="57.9" y="16.3" text-anchor="end">1</text>
<text x="193" y="271.7" font-size="15.3">E<tspan font-size="12.4" dy="4.9">CM</tspan><tspan dy="-4.9"> [MeV]</tspan></text>
<text transform="translate(19.7,141.2) rotate(-90)" font-size="15.5">sin<tspan font-size="12.6" dy="-7.9">2</tspan><tspan dy="7.9" dx="0.4">δ</tspan><tspan font-size="12.6" dy="5" dx="-2.6">1</tspan></text>
</g>
<rect x="196.8" y="32.5" width="179.8" height="61.9" fill="#fff" stroke="#000" stroke-width="1.2"/>
<g font-size="13.2" text-anchor="end" style="will-change:transform">
<text x="322.2" y="45.2">Huang ’10</text>
<text x="322.2" y="60.2">Tombrello ’65</text>
<text x="322.2" y="75.8">EFT (Huang’s ERE)</text>
<text x="322.2" y="91">Breit-Wigner</text>
</g>
<g fill="none" stroke-width="2.3">
<path d="M331.6,40.6 H367" stroke="#0000ff" stroke-dasharray="9 4.3 2.3 4.3"/>
<path d="M331.6,56 H367" stroke="#ff0000" stroke-dasharray="5.8 3.05"/>
<path d="M331.6,71.5 H367" stroke="#000"/>
<path d="M331.6,86.8 H367" stroke="#000" stroke-dasharray="13.5 4.4"/>
</g>
</svg>
</body></html>
